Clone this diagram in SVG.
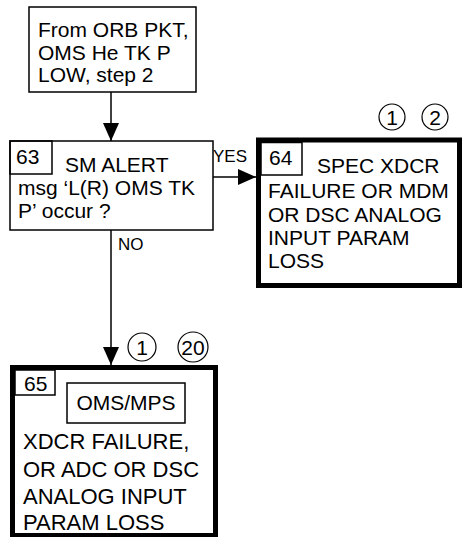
<svg xmlns="http://www.w3.org/2000/svg" width="463" height="537" viewBox="0 0 463 537">
<defs>
<style>
text{font-family:"Liberation Sans",Arial,sans-serif;font-size:21px;fill:#000}
.lbl{font-size:17px}
.big{font-size:22px}
.thin{fill:#fff;stroke:#000;stroke-width:1.5}
.thick{fill:#fff;stroke:#000;stroke-width:5}
.num{fill:none;stroke:#000;stroke-width:1.5}
.circ{fill:#fff;stroke:#000;stroke-width:1.2}
.line{stroke:#000;stroke-width:1.5;fill:none}
</style>
<marker id="ah" markerUnits="userSpaceOnUse" markerWidth="18" markerHeight="16" refX="18" refY="8" orient="auto">
<path d="M0,0 L18,8 L0,16 Z" fill="#000"/>
</marker>
</defs>
<rect width="463" height="537" fill="#fff"/>
<g id="connectors">
<line class="line" x1="111" y1="92" x2="111" y2="141" marker-end="url(#ah)"/>
<line class="line" x1="213" y1="177" x2="256" y2="177" marker-end="url(#ah)"/>
<line class="line" x1="111" y1="230" x2="111" y2="365" marker-end="url(#ah)"/>
<text class="lbl" x="213" y="162">YES</text>
<text class="lbl" x="118" y="250">NO</text>
</g>
<g id="start">
<rect class="thin" x="29" y="7" width="167" height="85"/>
<text x="38" y="37">From ORB PKT,</text>
<text x="38" y="59.5">OMS He TK P</text>
<text x="38" y="82">LOW, step 2</text>
</g>
<g id="n63">
<rect class="thin" x="10" y="141" width="203" height="89"/>
<rect class="num" x="10" y="141" width="42" height="33"/>
<text x="16" y="164">63</text>
<text x="65" y="172">SM ALERT</text>
<text x="18" y="195">msg ‘L(R) OMS TK</text>
<text x="18" y="218">P’ occur ?</text>
</g>
<g id="n64">
<circle class="circ" cx="392" cy="117" r="13"/>
<text x="392" y="124.5" text-anchor="middle">1</text>
<circle class="circ" cx="435" cy="117" r="13"/>
<text x="435" y="124.5" text-anchor="middle">2</text>
<rect class="thick" x="258.5" y="140" width="201" height="145.5"/>
<rect class="num" x="261" y="142.5" width="41" height="32.5"/>
<text x="269" y="165">64</text>
<text x="317" y="173">SPEC XDCR</text>
<text x="268" y="198">FAILURE OR MDM</text>
<text x="268" y="222">OR DSC ANALOG</text>
<text x="268" y="245">INPUT PARAM</text>
<text x="268" y="268">LOSS</text>
</g>
<g id="n65">
<circle class="circ" cx="142" cy="347" r="14"/>
<text x="142" y="354.5" text-anchor="middle">1</text>
<circle class="circ" cx="193" cy="347" r="15"/>
<text x="193" y="354.5" text-anchor="middle">20</text>
<rect class="thick" x="12.5" y="367.5" width="203" height="168"/>
<rect class="num" x="15" y="370" width="40" height="25"/>
<text x="24" y="391">65</text>
<rect class="num" x="67" y="383" width="118" height="40"/>
<text x="126" y="410" text-anchor="middle">OMS/MPS</text>
<text class="big" x="23" y="449">XDCR FAILURE,</text>
<text class="big" x="23" y="477">OR ADC OR DSC</text>
<text class="big" x="23" y="504">ANALOG INPUT</text>
<text class="big" x="23" y="530">PARAM LOSS</text>
</g>
</svg>
